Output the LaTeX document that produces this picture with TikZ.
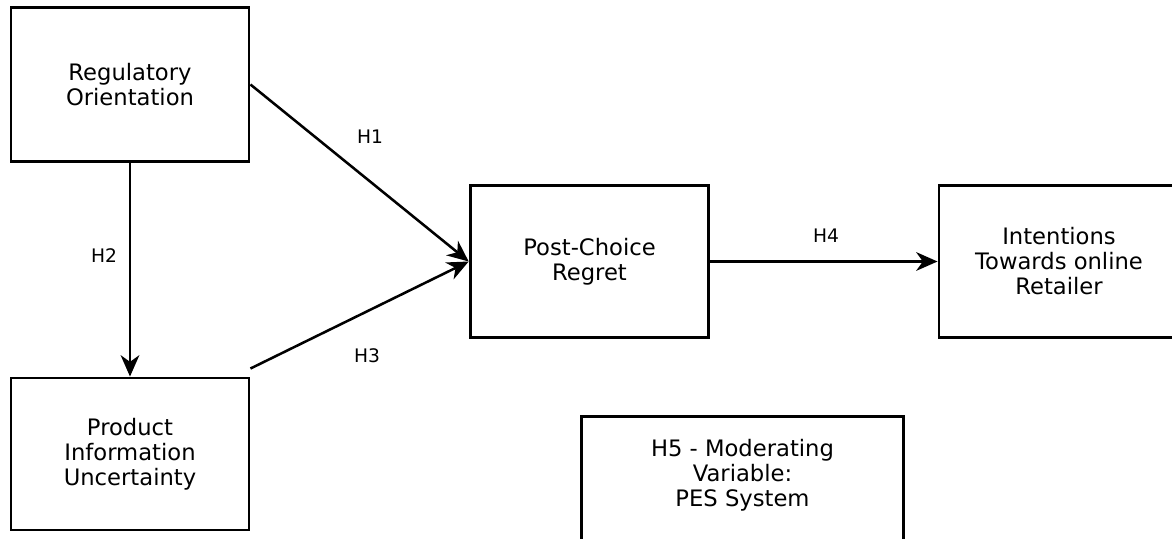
\documentclass[tikz,border=0pt]{standalone}
\usepackage{fontspec}
\setmainfont{DejaVu Sans}
\usetikzlibrary{arrows.meta,calc}
\tikzset{
  box/.style={draw,line width=2.2pt,rectangle,align=center,font=\fontsize{17}{18.75}\selectfont,inner sep=0pt},
  hyp/.style={font=\fontsize{14}{16}\selectfont},
  link/.style={line width=1.9pt,-{Stealth[length=16pt,width=14pt,inset=5pt]}}
}
\begin{document}
\begin{tikzpicture}[x=0.75pt,y=-0.75pt]
        \useasboundingbox (0,0) rectangle (1172,539);
        \clip (0,0) rectangle (1172,539);
        \node[box,minimum width=178.5pt,minimum height=116pt] (reg) at (130,84.5) {Regulatory\\Orientation};
        \node[box,minimum width=178.5pt,minimum height=114pt] (piu) at (130,454) {Product\\Information\\Uncertainty};
        \node[box,minimum width=179pt,minimum height=114.5pt] (pcr) at (589.5,261.5) {Post-Choice\\Regret};
        \node[box,minimum width=180pt,minimum height=114.5pt] (itr) at (1059,261.5) {Intentions\\Towards online\\Retailer};
        \node[box,minimum width=242pt,minimum height=112pt] (pes) at (742.5,491) {};
        \node[box,draw=none,anchor=north] (pestext) at (742.5,438) {H5 - Moderating\\Variable:\\PES System};
        % hypotheses
        \draw[link] (reg.east) -- (pcr.west) ;
        \draw[link] ($(piu.north east)+(0,-8)$) -- (pcr.west) ;
        \draw[link] (reg.south) -- (piu.north) ;
        \draw[link] (pcr.east) -- (itr.west) ;
        \node[hyp] (h1) at (370,137) {H1};
        \node[hyp] (h2) at (104,256) {H2};
        \node[hyp] (h3) at (367,356) {H3};
        \node[hyp] (h4) at (826,236) {H4};
    \end{tikzpicture}
\end{document}
